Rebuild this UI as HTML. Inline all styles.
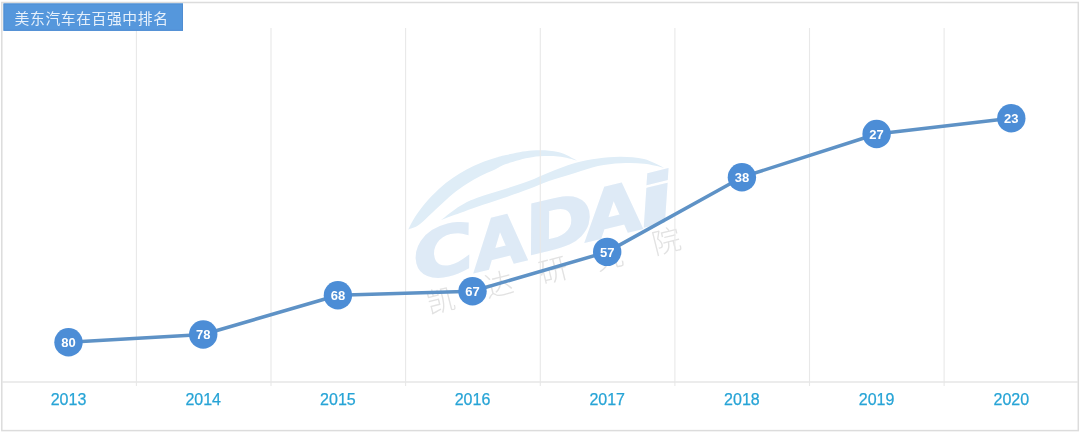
<!DOCTYPE html>
<html><head><meta charset="utf-8">
<style>
html,body{margin:0;padding:0;background:#fff;width:1080px;height:433px;overflow:hidden}
svg{display:block}
.gl{stroke:#e8e8e8;stroke-width:1.1}
.ax{stroke:#e6e6e6;stroke-width:1.6}
.fr{fill:none;stroke:#dcdcdc;stroke-width:1.5}
.ln{fill:none;stroke:#5e92c6;stroke-width:3.5;stroke-linejoin:round}
.mk{fill:#4c8dd6}
.lb{font-family:"Liberation Sans",sans-serif;font-weight:bold;font-size:13px;fill:#fff;text-anchor:middle}
.yr{font-family:"Liberation Sans",sans-serif;font-size:16px;fill:#27a4d6;stroke:#27a4d6;stroke-width:0.25;text-anchor:middle}
.tt{font-family:"Liberation Sans","Noto Sans CJK SC",sans-serif;font-size:14.8px;letter-spacing:0.6px;fill:#e6f0fb}
.wm{font-family:"DejaVu Sans",sans-serif;font-weight:bold;font-style:italic;font-size:66px;fill:#deeaf6;stroke:#deeaf6;stroke-width:2;text-anchor:middle;dominant-baseline:central}
.sw{fill:#dfedf7}
.wc{font-family:"Liberation Sans","Noto Sans CJK SC",sans-serif;font-size:28.5px;font-weight:300;fill:#e2e2e2;text-anchor:middle;dominant-baseline:central}
</style></head><body>
<svg width="1080" height="433" viewBox="0 0 1080 433">
<rect x="1.8" y="2.5" width="1076.5" height="428.1" class="fr"/>
<g>
<path class="sw" d="M408.3 229.5 C409.4 227.4 412.2 221.3 415.0 217.0 C417.8 212.7 421.0 208.2 425.0 203.5 C429.0 198.8 434.3 193.2 438.9 189.0 C443.5 184.8 448.1 181.2 452.7 178.0 C457.3 174.8 462.0 172.0 466.6 169.5 C471.2 167.0 475.8 164.9 480.5 163.0 C485.2 161.1 490.8 159.3 495.0 158.0 C499.2 156.7 499.8 156.2 506.0 155.0 C512.2 153.8 523.3 151.1 532.0 150.6 C540.7 150.1 550.5 150.3 558.0 152.0 C565.5 153.7 573.8 159.1 577.0 160.5 C573.8 159.8 565.5 157.1 558.0 156.5 C550.5 155.9 540.7 155.9 532.0 157.2 C523.3 158.4 512.2 161.9 506.0 164.0 C499.8 166.1 499.2 167.5 495.0 169.5 C490.8 171.5 485.2 173.6 480.5 176.0 C475.8 178.4 471.2 181.0 466.6 184.0 C462.0 187.0 457.3 190.2 452.7 194.0 C448.1 197.8 443.1 202.7 438.9 206.5 C434.7 210.3 431.2 213.8 427.7 217.0 C424.2 220.2 421.2 223.4 418.0 225.5 C414.8 227.6 409.9 228.8 408.3 229.5 Z"/>
<path class="sw" d="M441 220 C444.2 217.7 453.8 209.8 460.0 206.0 C466.2 202.2 470.8 200.2 478.0 197.5 C485.2 194.8 495.0 192.2 503.5 189.5 C512.0 186.8 521.2 183.8 528.8 181.0 C536.4 178.2 541.3 175.5 549.0 172.5 C556.7 169.5 566.8 165.3 575.0 163.0 C583.2 160.7 590.3 159.6 598.0 158.5 C605.7 157.4 613.3 156.6 621.0 156.7 C628.7 156.8 636.8 157.2 644.0 159.0 C651.2 160.8 660.7 166.2 664.0 167.7 C660.7 167.0 651.2 164.4 644.0 163.7 C636.8 163.0 628.7 162.9 621.0 163.3 C613.3 163.7 605.7 164.4 598.0 166.0 C590.3 167.6 583.2 170.5 575.0 173.0 C566.8 175.5 556.7 178.3 549.0 181.0 C541.3 183.7 536.4 186.2 528.8 189.0 C521.2 191.8 512.0 195.1 503.5 198.0 C495.0 200.9 485.2 204.0 478.0 206.5 C470.8 209.0 466.2 210.8 460.0 213.0 C453.8 215.2 444.2 218.8 441.0 220.0 Z"/>
<text transform="translate(443.5 252.5) rotate(-13.5) scale(1.27 1)" class="wm">C</text>
<text transform="translate(500.5 242.5) rotate(-13.5) scale(1.07 1)" class="wm">A</text>
<text transform="translate(559 224) rotate(-13.5) scale(1.27 1)" class="wm">D</text>
<text transform="translate(614 211.5) rotate(-13.5) scale(1.15 1)" class="wm">A</text>
<text transform="translate(654.5 200.5) rotate(-13.5) scale(1.6 1)" class="wm">i</text>
<text class="wc" transform="translate(440.6 301) rotate(-14)">凯</text>
<text class="wc" transform="translate(499 285) rotate(-14)">达</text>
<text class="wc" transform="translate(553.5 270.5) rotate(-14)">研</text>
<text class="wc" transform="translate(609 257.5) rotate(-14)">究</text>
<text class="wc" transform="translate(666.3 241.5) rotate(-14)">院</text>
</g>
<line x1="136.4" y1="28" x2="136.4" y2="386" class="gl"/>
<line x1="271.0" y1="28" x2="271.0" y2="386" class="gl"/>
<line x1="405.6" y1="28" x2="405.6" y2="386" class="gl"/>
<line x1="540.3" y1="28" x2="540.3" y2="386" class="gl"/>
<line x1="674.9" y1="28" x2="674.9" y2="386" class="gl"/>
<line x1="809.5" y1="28" x2="809.5" y2="386" class="gl"/>
<line x1="944.1" y1="28" x2="944.1" y2="386" class="gl"/>
<line x1="2" y1="382" x2="1078" y2="382" class="ax"/>
<polyline points="68.5,342.3 203.2,334.5 337.9,295.2 472.5,291.2 607.2,251.9 741.9,177.2 876.6,134.0 1011.3,118.2" class="ln"/>
<circle cx="68.5" cy="342.3" r="14.2" class="mk"/><text x="68.5" y="347.1" class="lb">80</text>
<circle cx="203.2" cy="334.5" r="14.2" class="mk"/><text x="203.2" y="339.3" class="lb">78</text>
<circle cx="337.9" cy="295.2" r="14.2" class="mk"/><text x="337.9" y="300.0" class="lb">68</text>
<circle cx="472.5" cy="291.2" r="14.2" class="mk"/><text x="472.5" y="296.0" class="lb">67</text>
<circle cx="607.2" cy="251.9" r="14.2" class="mk"/><text x="607.2" y="256.7" class="lb">57</text>
<circle cx="741.9" cy="177.2" r="14.2" class="mk"/><text x="741.9" y="182.0" class="lb">38</text>
<circle cx="876.6" cy="134.0" r="14.2" class="mk"/><text x="876.6" y="138.8" class="lb">27</text>
<circle cx="1011.3" cy="118.2" r="14.2" class="mk"/><text x="1011.3" y="123.0" class="lb">23</text>
<text x="68.5" y="405.3" class="yr">2013</text>
<text x="203.2" y="405.3" class="yr">2014</text>
<text x="337.9" y="405.3" class="yr">2015</text>
<text x="472.5" y="405.3" class="yr">2016</text>
<text x="607.2" y="405.3" class="yr">2017</text>
<text x="741.9" y="405.3" class="yr">2018</text>
<text x="876.6" y="405.3" class="yr">2019</text>
<text x="1011.3" y="405.3" class="yr">2020</text>
<rect x="3.5" y="3.5" width="179.5" height="27.3" fill="#5597dc"/><rect x="4" y="4" width="178.5" height="26.3" fill="none" stroke="#4f8dd2" stroke-width="1"/>
<text x="14.6" y="23.6" class="tt">美东汽车在百强中排名</text>
</svg>
</body></html>
